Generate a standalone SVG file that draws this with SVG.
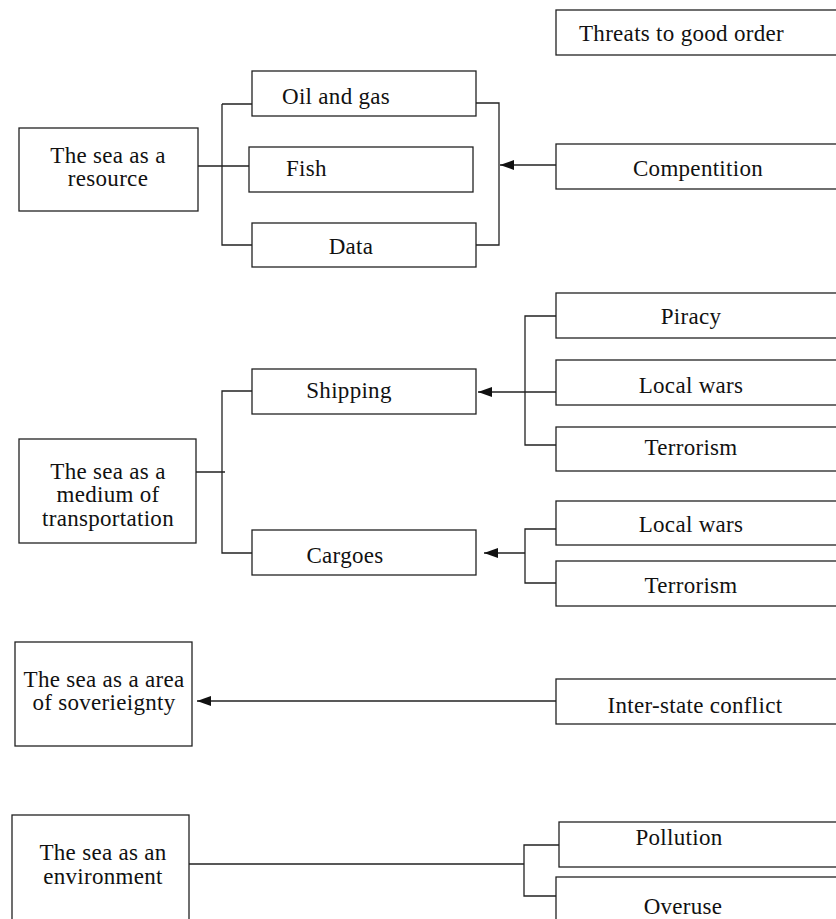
<svg xmlns="http://www.w3.org/2000/svg" width="836" height="919" viewBox="0 0 836 919">
<style>
.box{fill:#fff;stroke:#222;stroke-width:1.3}
.ln{fill:none;stroke:#222;stroke-width:1.3}
text{font-family:"Liberation Serif","Times New Roman",serif;font-size:23px;fill:#111;letter-spacing:0.3px}
.c{text-anchor:middle}
</style>
<defs>
<marker id="ah" markerUnits="userSpaceOnUse" markerWidth="15" markerHeight="11" refX="14" refY="5" orient="auto"><path d="M0,0 L14,5 L0,10 z" fill="#111"/></marker>
</defs>
<rect width="836" height="919" fill="#fff"/>
<g id="connectors">
<path class="ln" d="M222,104 H252 M222,104 V245 H252 M198,166 H249"/>
<path class="ln" d="M476,103 H499 V245 H476"/>
<line class="ln" x1="556" y1="165" x2="500" y2="165" marker-end="url(#ah)"/>
<path class="ln" d="M196,472 H225 M252,391 H222 V553 H252"/>
<path class="ln" d="M556,316 H525 V445 H556"/>
<line class="ln" x1="556" y1="392" x2="478" y2="392" marker-end="url(#ah)"/>
<path class="ln" d="M556,529 H525 V583 H556"/>
<line class="ln" x1="525" y1="553" x2="484" y2="553" marker-end="url(#ah)"/>
<line class="ln" x1="556" y1="701" x2="197" y2="701" marker-end="url(#ah)"/>
<path class="ln" d="M189,864 H524 M559,845 H524 V896 H556"/>
</g>
<g id="threats"><rect class="box" x="556" y="10" width="300" height="45"/><text x="579" y="41">Threats to good order</text></g>
<g id="resource"><rect class="box" x="19" y="128" width="179" height="83"/><text class="c" x="108" y="163">The sea as a</text><text class="c" x="108" y="186">resource</text></g>
<g id="oilgas"><rect class="box" x="252" y="71" width="224" height="45"/><text x="282" y="104">Oil and gas</text></g>
<g id="fish"><rect class="box" x="249" y="147" width="224" height="45"/><text x="286" y="176">Fish</text></g>
<g id="data"><rect class="box" x="252" y="223" width="224" height="44"/><text class="c" x="351" y="254">Data</text></g>
<g id="competition"><rect class="box" x="556" y="144" width="300" height="45"/><text class="c" x="698" y="176">Compentition</text></g>
<g id="transport"><rect class="box" x="19" y="439" width="177" height="104"/><text class="c" x="108" y="479">The sea as a</text><text class="c" x="108" y="502">medium of</text><text class="c" x="108" y="526">transportation</text></g>
<g id="shipping"><rect class="box" x="252" y="369" width="224" height="45"/><text class="c" x="349" y="398">Shipping</text></g>
<g id="cargoes"><rect class="box" x="252" y="530" width="224" height="45"/><text class="c" x="345" y="563">Cargoes</text></g>
<g id="piracy"><rect class="box" x="556" y="293" width="300" height="45"/><text class="c" x="691" y="324">Piracy</text></g>
<g id="localwars1"><rect class="box" x="556" y="360" width="300" height="45"/><text class="c" x="691" y="393">Local wars</text></g>
<g id="terrorism1"><rect class="box" x="556" y="427" width="300" height="44"/><text class="c" x="691" y="455">Terrorism</text></g>
<g id="localwars2"><rect class="box" x="556" y="501" width="300" height="44"/><text class="c" x="691" y="532">Local wars</text></g>
<g id="terrorism2"><rect class="box" x="556" y="561" width="300" height="45"/><text class="c" x="691" y="593">Terrorism</text></g>
<g id="sovereignty"><rect class="box" x="15" y="642" width="177" height="104"/><text class="c" x="104" y="687">The sea as a area</text><text class="c" x="104" y="710">of soverieignty</text></g>
<g id="interstate"><rect class="box" x="556" y="679" width="300" height="45"/><text class="c" x="695" y="713">Inter-state conflict</text></g>
<g id="environment"><rect class="box" x="12" y="815" width="177" height="130"/><text class="c" x="103" y="860">The sea as an</text><text class="c" x="103" y="884">environment</text></g>
<g id="pollution"><rect class="box" x="559" y="822" width="300" height="45"/><text class="c" x="679" y="845">Pollution</text></g>
<g id="overuse"><rect class="box" x="556" y="877" width="300" height="70"/><text class="c" x="683" y="914">Overuse</text></g>
</svg>
